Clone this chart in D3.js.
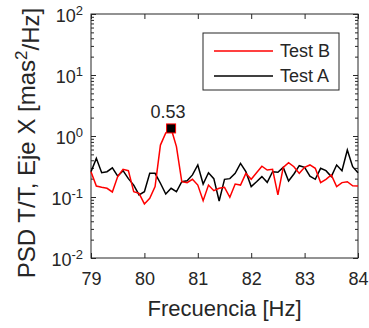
<!DOCTYPE html>
<html>
<head>
<meta charset="utf-8">
<script src="https://cdn.jsdelivr.net/npm/d3@7"></script>
<style>
  body { margin: 0; background: #fff; }
  text { font-family: "Liberation Sans", Arial, sans-serif; fill: #262626; }
</style>
</head>
<body>
<div class="viz"></div>
<script>
var freq = [79.0, 79.1, 79.2, 79.3, 79.4, 79.5, 79.6, 79.7, 79.8, 79.9,
            80.0, 80.1, 80.2, 80.3, 80.4, 80.5, 80.6, 80.7, 80.8, 80.9,
            81.0, 81.1, 81.2, 81.3, 81.4, 81.5, 81.6, 81.7, 81.8, 81.9,
            82.0, 82.1, 82.2, 82.3, 82.4, 82.5, 82.6, 82.7, 82.8, 82.9,
            83.0, 83.1, 83.2, 83.3, 83.4, 83.5, 83.6, 83.7, 83.8, 83.9, 84.0];

var testB = [0.26, 0.151, 0.144, 0.139, 0.121, 0.216, 0.284, 0.27, 0.122, 0.115,
             0.077, 0.095, 0.148, 0.71, 1.12, 1.33, 0.67, 0.178, 0.172, 0.195,
             0.157, 0.087, 0.157, 0.127, 0.139, 0.144, 0.099, 0.163, 0.157, 0.244,
             0.195, 0.25, 0.32, 0.277, 0.284, 0.108, 0.306, 0.365, 0.314, 0.244,
             0.306, 0.335, 0.295, 0.172, 0.195, 0.23, 0.148, 0.172, 0.178, 0.153, 0.151];

var testA = [0.26, 0.43, 0.25, 0.26, 0.30, 0.22, 0.27, 0.20, 0.157, 0.108,
             0.122, 0.244, 0.244, 0.168, 0.112, 0.139, 0.122, 0.178, 0.185, 0.23,
             0.335, 0.163, 0.25, 0.20, 0.086, 0.195, 0.20, 0.244, 0.356, 0.26,
             0.148, 0.178, 0.216, 0.174, 0.26, 0.254, 0.306, 0.183, 0.238, 0.326,
             0.306, 0.22, 0.195, 0.295, 0.27, 0.216, 0.335, 0.27, 0.59, 0.314, 0.25];

var xTicks = [79, 80, 81, 82, 83, 84];
var yTicks = [1e-2, 1e-1, 1e0, 1e1, 1e2];
var peakIndex = 15;
var peakLabel = "0.53";

var margin = {top: 14, right: 11, bottom: 70, left: 91},
    width = 369 - margin.left - margin.right,
    height = 328 - margin.top - margin.bottom;

var x = d3.scaleLinear().domain([79, 84]).range([0, width]);
var y = d3.scaleLog().domain([1e-2, 1e2]).range([height, 0]);

var svg = d3.select(".viz").append("svg")
    .attr("width", 369)
    .attr("height", 328)
  .append("g")
    .attr("transform", "translate(" + margin.left + "," + margin.top + ")");

// minor log ticks (2..9 in each decade)
var minor = y.ticks().filter(function(d) { return yTicks.indexOf(d) < 0; });

function styleAxis(g) {
    g.select(".domain").remove();
    g.selectAll("line").attr("stroke", "#262626").attr("stroke-width", 1);
}

// x axis bottom + top (inward ticks)
svg.append("g")
    .attr("transform", "translate(0," + height + ")")
    .call(d3.axisBottom(x).tickValues(xTicks).tickSize(-5).tickFormat(d3.format("d")).tickPadding(14))
    .call(styleAxis)
    .selectAll("text").style("font-size", "18px").attr("fill", "#262626");

svg.append("g")
    .call(d3.axisTop(x).tickValues(xTicks).tickSize(-5).tickFormat(""))
    .call(styleAxis);

// y axis left + right, major and minor
svg.append("g")
    .call(d3.axisLeft(y).tickValues(minor).tickSize(-3).tickFormat(""))
    .call(styleAxis);
svg.append("g")
    .attr("transform", "translate(" + width + ",0)")
    .call(d3.axisRight(y).tickValues(minor).tickSize(-3).tickFormat(""))
    .call(styleAxis);
svg.append("g")
    .attr("transform", "translate(" + width + ",0)")
    .call(d3.axisRight(y).tickValues(yTicks).tickSize(-5).tickFormat(""))
    .call(styleAxis);

var yAxis = svg.append("g")
    .call(d3.axisLeft(y).tickValues(yTicks).tickSize(-5).tickFormat("").tickPadding(8))
    .call(styleAxis);

yAxis.selectAll(".tick").append("text")
    .attr("x", -8)
    .attr("dy", "0.4em")
    .attr("text-anchor", "end")
    .style("font-size", "18px")
    .each(function(d) {
        var t = d3.select(this);
        t.append("tspan").text("10");
        t.append("tspan")
            .attr("dy", "-0.55em")
            .style("font-size", "13px")
            .text(Math.round(Math.log10(d)));
    });

// box
svg.append("rect")
    .attr("width", width)
    .attr("height", height)
    .attr("fill", "none")
    .attr("stroke", "#262626")
    .attr("stroke-width", 1);

var line = d3.line()
    .x(function(d, i) { return x(freq[i]); })
    .y(function(d) { return y(d); });

svg.append("path")
    .datum(testA)
    .attr("d", line)
    .style("fill", "none")
    .style("stroke", "#000")
    .style("stroke-width", 1.5);

svg.append("path")
    .datum(testB)
    .attr("d", line)
    .style("fill", "none")
    .style("stroke", "#ff0000")
    .style("stroke-width", 1.5);

// peak marker + label
svg.append("rect")
    .attr("x", x(freq[peakIndex]) - 4.5)
    .attr("y", y(testB[peakIndex]) - 4.5)
    .attr("width", 9)
    .attr("height", 9)
    .attr("fill", "#000")
    .attr("stroke", "#ff0000")
    .attr("stroke-width", 1);

svg.append("text")
    .attr("x", x(freq[peakIndex]) - 3)
    .attr("y", y(testB[peakIndex]) - 10)
    .attr("text-anchor", "middle")
    .style("font-size", "18px")
    .attr("fill", "#000")
    .text(peakLabel);

// legend
var legend = svg.append("g").attr("transform", "translate(112,19)");
legend.append("rect")
    .attr("width", 136)
    .attr("height", 57)
    .attr("fill", "#fff")
    .attr("stroke", "#262626")
    .attr("stroke-width", 1);

var legendItems = [{name: "Test B", color: "#ff0000"}, {name: "Test A", color: "#000"}];
legendItems.forEach(function(d, i) {
    var yy = 18 + i * 25;
    legend.append("line")
        .attr("x1", 11).attr("x2", 70)
        .attr("y1", yy).attr("y2", yy)
        .attr("stroke", d.color)
        .attr("stroke-width", 1.5);
    legend.append("text")
        .attr("x", 77)
        .attr("y", yy)
        .attr("dy", "0.35em")
        .style("font-size", "18px")
        .attr("fill", "#000")
        .text(d.name);
});

// axis labels
svg.append("text")
    .attr("x", width / 2)
    .attr("y", height + 58)
    .attr("text-anchor", "middle")
    .style("font-size", "22px")
    .text("Frecuencia [Hz]");

var yl = svg.append("text")
    .attr("transform", "translate(" + (-56) + "," + 129 + ") rotate(-90)")
    .attr("text-anchor", "middle")
    .style("font-size", "24px");
yl.append("tspan").text("PSD T/T, Eje X [mas");
yl.append("tspan").attr("dy", "-0.5em").style("font-size", "17px").text("2");
yl.append("tspan").attr("dy", "0.5em").text("/Hz]");
</script>
</body>
</html>
